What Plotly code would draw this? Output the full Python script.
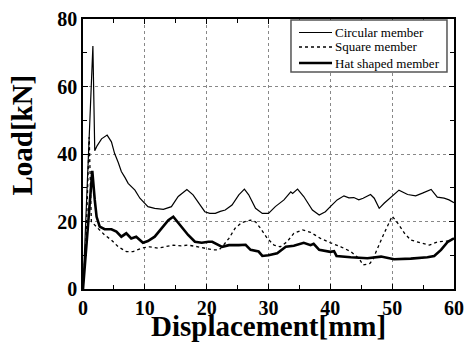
import plotly.graph_objects as go

# Circular member
circ_x = [0, 1.6, 1.9, 2.3, 3.0, 3.9, 4.6, 5.1, 5.7, 6.2, 6.8, 7.3, 8.4, 9.2, 10.5, 11.6, 13.0, 14.3,
          15.4, 16.8, 17.8, 18.6, 19.7, 20.5, 21.4, 22.2, 23.0, 24.1, 25.2, 26.1, 26.8, 27.9, 29.0,
          30.0, 31.1, 32.5, 33.6, 33.9, 34.7, 35.7, 37.1, 38.2, 39.2, 40.0, 41.1, 42.2, 43.0, 43.8,
          44.6, 45.3, 46.5, 47.1, 47.9, 48.7, 50.0, 51.1, 52.5, 53.8, 54.9, 56.3, 57.3, 58.4, 59.2, 60.0]
circ_y = [0, 72, 41, 42.5, 44.5, 45.6, 43.6, 40.2, 37.5, 34.8, 33.0, 31.3, 29.3, 26.9, 24.4, 23.9, 23.6, 24.4,
          27.4, 29.5, 27.9, 25.9, 22.9, 22.4, 22.4, 23.0, 23.4, 24.9, 27.9, 29.6, 27.9, 23.9, 22.4,
          22.4, 24.4, 26.4, 28.8, 28.3, 29.6, 27.4, 23.4, 21.9, 22.9, 24.4, 26.4, 27.6, 27.0, 27.1,
          26.4, 26.9, 28.0, 26.9, 23.9, 25.4, 27.4, 29.3, 28.0, 27.6, 28.4, 29.5, 27.2, 26.9, 26.4, 25.6]

# Square member
sq_x = [0, 0.5, 1.0, 1.35, 2.4, 3.5, 4.6, 5.7, 7.0, 8.1, 9.5, 10.8, 12.1, 13.5, 14.6, 15.9, 17.0, 18.6,
        20.0, 21.0, 22.0, 22.5, 23.6, 24.6, 25.7, 27.1, 27.9, 28.7, 29.8, 30.9, 31.9, 33.0, 34.1, 35.5,
        36.8, 38.4, 40.0, 41.7, 43.3, 44.6, 45.3, 46.4, 47.0, 47.3, 48.7, 50.0, 50.9, 52.0, 53.0, 54.6,
        56.0, 57.4, 59.0, 60.0]
sq_y = [0, 15, 45, 20, 18.0, 16.0, 14.5, 12.5, 11.1, 11.1, 12.1, 12.5, 12.1, 12.5, 13.0, 12.8, 13.0, 12.5,
        12.0, 11.6, 11.6, 12.5, 15.0, 18.0, 19.7, 20.4, 19.9, 18.0, 15.0, 13.0, 12.5, 14.0, 16.5, 17.5,
        16.8, 15.0, 13.7, 12.5, 11.1, 9.1, 7.1, 7.6, 9.1, 10.6, 16.5, 21.6, 19.5, 16.5, 14.5, 13.7,
        13.0, 14.0, 14.2, 15.0]

# Hat shaped member
hat_x = [0, 1.5, 1.9, 2.2, 2.7, 3.5, 4.6, 5.4, 6.2, 7.0, 7.8, 8.6, 9.7, 10.5, 11.6, 12.7, 13.8, 14.6,
         15.2, 15.9, 17.0, 18.1, 19.2, 20.3, 20.9, 22.5, 23.6, 25.2, 26.3, 27.1, 28.4, 29.0, 30.0, 31.4,
         32.8, 34.1, 35.7, 36.8, 37.3, 38.2, 40.0, 40.6, 41.0, 43.3, 46.0, 48.2, 50.3, 53.0, 55.7, 56.8,
         57.9, 59.0, 59.8, 60.0]
hat_y = [0, 35, 26.4, 21.4, 18.5, 17.7, 17.7, 17.0, 15.5, 16.5, 15.0, 15.5, 13.7, 14.2, 15.5, 18.0, 20.4, 21.4,
         20.0, 18.5, 16.0, 14.0, 13.7, 14.0, 14.0, 12.5, 13.0, 13.0, 13.1, 11.6, 11.1, 9.8, 10.0, 10.6,
         12.5, 12.8, 13.7, 13.0, 13.4, 11.6, 11.0, 11.2, 9.8, 9.4, 9.1, 9.6, 8.8, 9.0, 9.4, 9.8,
         11.6, 14.0, 15.0, 15.0]

series_names = ["Circular member", "Square member", "Hat shaped member"]
x_ticks = [0, 10, 20, 30, 40, 50, 60]
y_ticks = [0, 20, 40, 60, 80]

SERIF = "Liberation Serif"
styles = [dict(color="black", width=1.2),
          dict(color="black", width=1.3, dash="dot"),
          dict(color="black", width=2.6)]

fig = go.Figure()
for name, xs, ys, st in zip(series_names, [circ_x, sq_x, hat_x], [circ_y, sq_y, hat_y], styles):
    fig.add_trace(go.Scatter(x=xs, y=ys, mode="lines", name=name, line=st, showlegend=False))

axis_common = dict(
    showline=True, linecolor="black", linewidth=1.5, mirror="ticks",
    ticks="inside", ticklen=5, tickcolor="black", tickwidth=1,
    showgrid=True, gridcolor="#888888", griddash="dot", gridwidth=1,
    zeroline=False, automargin=False,
    tickfont=dict(family=SERIF, size=20, color="black", weight="bold"),
)

fig.update_xaxes(range=[0, 60], tickvals=x_ticks,
                 minor=dict(dtick=5, ticks="inside", ticklen=4, tickcolor="black", showgrid=False),
                 **axis_common)
fig.update_yaxes(range=[0, 80], tickvals=y_ticks,
                 minor=dict(dtick=10, ticks="inside", ticklen=4, tickcolor="black", showgrid=False),
                 **axis_common)

fig.add_annotation(text="<b>Displacement[mm]</b>", xref="paper", yref="paper",
                   x=0.5, y=-0.069, xanchor="center", yanchor="top", showarrow=False,
                   font=dict(family=SERIF, size=29, color="black"))
fig.add_annotation(text="<b>Load[kN]</b>", xref="paper", yref="paper",
                   x=-0.1146, y=0.57, xanchor="right", yanchor="middle", showarrow=False, textangle=-90,
                   font=dict(family=SERIF, size=29, color="black"))

# Legend box (drawn manually to match compact spacing)
fig.add_shape(type="rect", xref="paper", yref="paper", x0=0.5606, x1=0.9811, y0=0.8037, y1=0.9963,
              line=dict(color="#555555", width=1.5), fillcolor="white", layer="above")
leg_y = [0.9500, 0.8963, 0.8370]
for name, st, yy in zip(series_names, styles, leg_y):
    fig.add_shape(type="line", xref="paper", yref="paper", x0=0.5822, x1=0.6712, y0=yy, y1=yy,
                  line=st, layer="above")
    fig.add_annotation(text=name, xref="paper", yref="paper", x=0.6740, y=yy,
                       xanchor="left", yanchor="middle", showarrow=False,
                       font=dict(family=SERIF, size=13, color="black"))

fig.update_layout(
    width=468, height=343, autosize=False,
    margin=dict(l=83, r=14, t=19, b=54, autoexpand=False),
    plot_bgcolor="white", paper_bgcolor="white",
    showlegend=False,
)

fig.write_html("out.html", config={"displayModeBar": False},
               post_script="document.body.style.margin='0';")
